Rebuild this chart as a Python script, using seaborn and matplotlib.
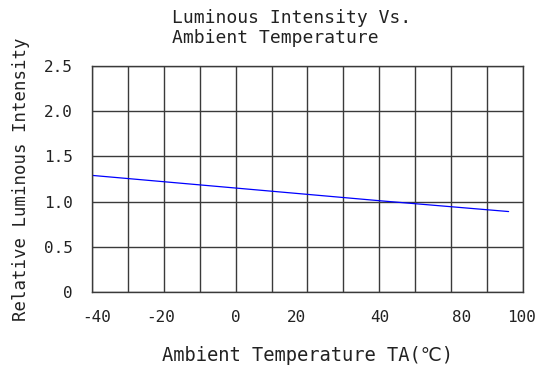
import numpy as np
import pandas as pd
import seaborn as sns
import matplotlib.pyplot as plt

# values
temperature = [-40, 0, 40, 76]
intensity = [1.29, 1.15, 1.01, 0.89]

grid_x = list(range(-40, 81, 10))
tick_pos = [-38.6, -20.8, 0, 16.8, 40, 63, 79.5]
tick_labels = ['-40', '-20', '0', '20', '40', '80', '100']
y_ticks = [0, 0.5, 1.0, 1.5, 2.0, 2.5]
y_labels = ['0', '0.5', '1.0', '1.5', '2.0', '2.5']

sns.set_style('white')
plt.rcParams['font.family'] = ['DejaVu Sans Mono', 'DejaVu Sans']

df = pd.DataFrame({'TA': temperature, 'IV': intensity})

fig = plt.figure(figsize=(5.49, 3.70), dpi=100)
ax = fig.add_axes([0.1676, 0.2108, 0.785, 0.6108])

sns.lineplot(data=df, x='TA', y='IV', ax=ax, color='#0000ff', linewidth=0.9)

ax.set_xlim(-40, 80)
ax.set_ylim(0, 2.5)

# grid cells (drawn directly so none get dropped under the odd tick labels)
ax.vlines(grid_x, 0, 2.5, colors='#3a3a3a', linewidth=1.0, zorder=0)
ax.hlines(y_ticks, -40, 80, colors='#3a3a3a', linewidth=1.0, zorder=0)

ax.set_xticks(tick_pos)
ax.set_xticklabels(tick_labels, fontsize=11.5, color='#222222')
ax.set_yticks(y_ticks)
ax.set_yticklabels(y_labels, fontsize=11.5, color='#222222')
ax.tick_params(axis='both', which='both', length=0)
ax.tick_params(axis='x', pad=13)
ax.tick_params(axis='y', pad=14)

for s in ax.spines.values():
    s.set_color('#3a3a3a')
    s.set_linewidth(1.0)

ax.set_xlabel('Ambient Temperature TA(\u2103)', fontsize=13.5, labelpad=15,
              color='#222222')
ax.set_ylabel('Relative Luminous Intensity', fontsize=12.5, labelpad=10,
              color='#222222')

fig.text(0.313, 0.975, 'Luminous Intensity Vs.\nAmbient Temperature',
         ha='left', va='top', fontsize=13, linespacing=1.15, color='#222222')

fig.savefig('out.png', dpi=100, facecolor='white')
